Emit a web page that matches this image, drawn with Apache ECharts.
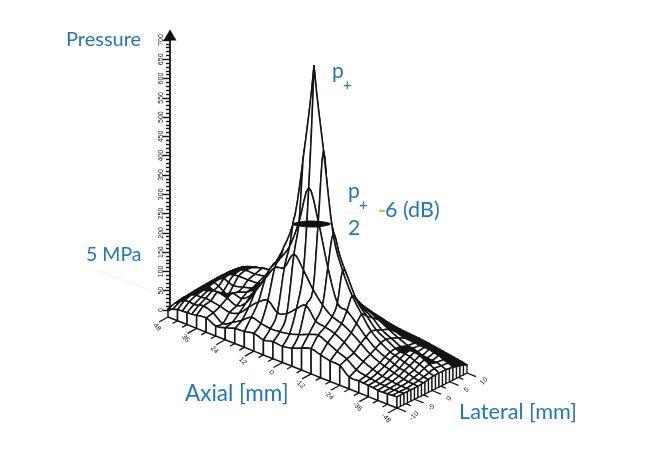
<!DOCTYPE html>
<html><head><meta charset="utf-8">
<style>html,body{margin:0;padding:0;background:#fff}#c{width:657px;height:463px}</style>
<script src="https://cdn.jsdelivr.net/npm/echarts@6/dist/echarts.min.js"></script>
</head><body><div id="c"></div>
<script>
const axialMm=[48,46,44,42,40,38,36,32,28,24,20,16,12,8,4,0,-4,-8,-12,-16,-20,-24,-28,-32,-34,-36,-38,-40,-42,-44,-46,-48];
const lateralMm=[-10,-8,-6,-4,-2.5,-1,0.5,2,4,6,7,8,8.7,9.4,10];
const p48=[0,6,10,11,13,14,15,16,17,16,16,15,15,14,13];
const p46=[4,14,20,22,24,25,26,27,28,28,27,26,25,24,22];
const p44=[8,22,28,30,33,34,36,37,38,38,37,35,33,31,29];
const p42=[9,24,32,36,38,42,44,46,47,47,45,42,39,36,33];
const p40=[10,22,32,40,34,38,50,54,56,55,52,47,43,39,35];
const p38=[11,25,34,44,30,30,46,58,62,60,56,51,46,42,37];
const p36=[13,28,32,46,32,26,42,60,66,64,60,54,49,44,39];
const p32=[16,20,28,40,46,42,48,60,66,72,66,58,52,46,40];
const p28=[5,2,22,30,42,52,56,62,70,76,70,62,55,48,42];
const p24=[10,15,30,48,62,72,74,72,74,82,77,70,62,54,47];
const p20=[18,30,55,88,100,104,96,88,82,86,84,76,68,60,52];
const p16=[20,48,78,130,150,158,140,115,98,92,88,80,74,68,60];
const p12=[25,42,92,168,185,215,188,140,112,94,88,82,76,70,64];
const p8=[18,38,70,178,226,298,240,168,118,96,90,84,78,72,66];
const p4=[23,40,78,222,300,480,310,215,128,96,92,86,80,75,70];
const p0=[21,44,100,190,397,705,420,250,122,92,90,84,78,72,65];
const pm4=[26,52,118,150,319,495,330,225,135,82,78,72,64,55,46];
const pm8=[36,62,88,120,210,290,240,155,118,78,66,58,52,46,40];
const pm12=[44,70,82,100,128,205,180,128,98,72,58,50,44,38,34];
const pm16=[38,60,75,92,118,150,128,105,86,62,50,44,38,32,28];
const pm20=[32,48,62,78,95,112,100,90,74,54,44,38,32,28,24];
const pm24=[30,38,45,60,70,78,74,68,60,45,38,32,28,24,22];
const pm28=[10,20,32,42,50,58,60,56,48,38,32,28,25,22,20];
const pm32=[10,14,22,30,38,44,46,44,38,36,32,27,24,20,17];
const pm34=[9,12,18,26,34,40,42,42,36,34,30,26,22,18,15];
const pm36=[8,10,14,22,28,36,42,44,32,34,30,24,20,16,13];
const pm38=[7,8,12,18,24,32,40,44,28,34,32,24,18,14,11];
const pm40=[5,8,10,15,22,28,34,40,26,30,30,24,16,12,9];
const pm42=[5,6,8,12,18,22,30,34,24,28,26,20,14,10,7];
const pm44=[6,7,8,10,14,18,24,28,24,22,20,16,11,8,5];
const pm46=[7,7,7,9,11,14,18,22,20,18,14,11,8,5,3];
const pm48=[8,8,8,8,10,12,15,15,15,12,9,7,5,3,0];
const surface=[p48,p46,p44,p42,p40,p38,p36,p32,p28,p24,p20,p16,p12,p8,p4,p0,pm4,pm8,pm12,pm16,pm20,pm24,pm28,pm32,pm34,pm36,pm38,pm40,pm42,pm44,pm46,pm48];
const halfLevelRing=[[-3.4,1.4],[-1.3,1.3],[2.4,-0.05],[4.6,-1.7],[5.4,-3.4],[3.3,-3.3],[-0.4,-1.95],[-2.6,-0.3]];
const halfLevelPressure=294;
const pressureTicks={min:0,max:700,step:50};
const axialTickLabels=['48','36','24','12','0','-12','-24','-36','-48'];
const axialMinor=[48,44,40,36,32,28,24,20,16,12,8,4,0,-4,-8,-12,-16,-20,-24,-28,-32,-36,-40,-44,-48];
const lateralTickLabels=['-10','-5','0','5','10'];
const lateralMinor=[-10,-7.5,-5,-2.5,0,2.5,5,7.5,10];
const wallLines=[-10,-9,-8,-7,-6,-5,-4,-3,-2,-1,0,1,2,3,4,5,6,7,8,9,10];

const blue='#2277bb';
const proj=(a,l,z)=>{const t=(48-a)/96,u=(l+10)/20;return [168+229*t+70*u,309+91*t-35*u-0.387*z];};
const floorZ=-20.7;
const node=(r,c)=>proj(axialMm[r],lateralMm[c],surface[r][c]);
let pr=0,pc=0;surface.forEach((row,r)=>row.forEach((v,c)=>{if(v>surface[pr][pc]){pr=r;pc=c;}}));
const clampNode=(r,c)=>node(Math.max(0,Math.min(axialMm.length-1,r)),Math.max(0,Math.min(lateralMm.length-1,c)));
function seg(r0,c0,r1,c1,n){
  const dr=r1-r0,dc=c1-c0;
  const P1=node(r0,c0),P2=node(r1,c1);
  let P0=clampNode(r0-dr,c0-dc),P3=clampNode(r1+dr,c1+dc);
  if(r0===pr&&c0===pc)P0=[2*P1[0]-P2[0],P1[1]-(P2[1]-P1[1])*1.6];
  if(r1===pr&&c1===pc)P3=[2*P2[0]-P1[0],P2[1]+(P2[1]-P1[1])*1.6];
  const out=[];
  for(let k=0;k<n;k++){const s=k/n,s2=s*s,s3=s2*s;
    const f=i=>0.5*(2*P1[i]+(P2[i]-P0[i])*s+(2*P0[i]-5*P1[i]+4*P2[i]-P3[i])*s2+(3*P1[i]-P0[i]-3*P2[i]+P3[i])*s3);
    out.push([f(0),f(1)]);}
  return out;
}
const cellArea=(r,c)=>{const q=[node(r,c),node(r+1,c),node(r+1,c+1),node(r,c+1)];let s=0;for(let i=0;i<4;i++){const a=q[i],b=q[(i+1)%4];s+=a[0]*b[1]-b[0]*a[1];}return Math.abs(s)/2;};
const blackBelow=27;
const cells=[];
for(let c=lateralMm.length-2;c>=0;c--)for(let r=0;r<axialMm.length-1;r++)cells.push([r,c]);
const frontCells=[];
for(let i=0;i<axialMinor.length-1;i++)frontCells.push([axialMm.indexOf(axialMinor[i]),axialMm.indexOf(axialMinor[i+1])]);
const zAt=(l)=>{const row=surface[surface.length-1];for(let c=0;c<lateralMm.length-1;c++){if(l<=lateralMm[c+1]){const f=(l-lateralMm[c])/(lateralMm[c+1]-lateralMm[c]);return row[c]+f*(row[c+1]-row[c]);}}return row[row.length-1];};
const stroke='#151515',meshW=1.55;

const chart=echarts.init(document.getElementById('c'),null,{renderer:'canvas'});
const txt=(x,y,s,size,extra)=>({type:'text',x,y,silent:true,style:Object.assign({text:s,fontFamily:'Lato',fontSize:size,fill:blue,textVerticalAlign:'middle'},extra||{})});
chart.setOption({
  animation:false,
  backgroundColor:'#fff',
  grid:[{left:0,top:0,width:657,height:463},{left:170,top:40,width:1,height:270}],
  xAxis:[{type:'value',min:0,max:657,show:false,gridIndex:0},{type:'value',min:0,max:1,show:false,gridIndex:1}],
  yAxis:[{type:'value',min:0,max:463,inverse:true,show:false,gridIndex:0},
    {type:'value',gridIndex:1,min:pressureTicks.min,max:pressureTicks.max,interval:pressureTicks.step,position:'left',z:5,
     axisLine:{show:true,lineStyle:{color:'#111',width:1.8},symbol:['none','triangle'],symbolSize:[13,11],symbolOffset:[0,5]},
     axisTick:{show:true,length:7,lineStyle:{color:'#111',width:1.4}},
     minorTick:{show:true,splitNumber:5,length:4,lineStyle:{color:'#111',width:1.4}},
     splitLine:{show:false},minorSplitLine:{show:false},
     axisLabel:{show:true,rotate:90,fontSize:7,margin:5,color:'#222',fontFamily:'"Liberation Sans"',hideOverlap:false}}],
  series:[
   {type:'custom',coordinateSystem:'cartesian2d',xAxisIndex:0,yAxisIndex:0,clip:false,silent:true,z:2,data:cells,
    renderItem(p,api){const r=api.value(0),c=api.value(1),n=4;
      const pts=[].concat(seg(r,c,r+1,c,n),seg(r+1,c,r+1,c+1,n),seg(r+1,c+1,r,c+1,n),seg(r,c+1,r,c,n)).map(q=>api.coord(q));
      return {type:'polygon',shape:{points:pts},style:{fill:cellArea(r,c)<blackBelow?'#151515':'#fff',stroke,lineWidth:meshW,lineJoin:'round'}};}},
   {type:'custom',coordinateSystem:'cartesian2d',xAxisIndex:0,yAxisIndex:0,clip:false,silent:true,z:3,data:frontCells,
    renderItem(p,api){const r0=api.value(0),r1=api.value(1),n=4;
      let top=[];for(let r=r0;r<r1;r++)top=top.concat(seg(r,0,r+1,0,n));top.push(node(r1,0));
      const pts=top.concat([proj(axialMm[r1],-10,floorZ),proj(axialMm[r0],-10,floorZ)]).map(q=>api.coord(q));
      return {type:'polygon',shape:{points:pts},style:{fill:'#fff',stroke,lineWidth:meshW,lineJoin:'round'}};}},
   {type:'custom',coordinateSystem:'cartesian2d',xAxisIndex:0,yAxisIndex:0,clip:false,silent:true,z:3,data:wallLines.slice(0,-1).map((l,i)=>[l,wallLines[i+1]]),
    renderItem(p,api){const l0=api.value(0),l1=api.value(1);
      const pts=[proj(-48,l0,zAt(l0)),proj(-48,l1,zAt(l1)),proj(-48,l1,floorZ),proj(-48,l0,floorZ)].map(q=>api.coord(q));
      return {type:'polygon',shape:{points:pts},style:{fill:'#fff',stroke,lineWidth:1.3}};}},
   {type:'custom',coordinateSystem:'cartesian2d',xAxisIndex:0,yAxisIndex:0,clip:false,silent:true,z:4,data:[[0,0]],
    renderItem(p,api){const pts=halfLevelRing.map(q=>api.coord(proj(q[0],q[1],halfLevelPressure)));
      return {type:'polygon',shape:{points:pts,smooth:0.4},style:{fill:'#111',stroke:'#111',lineWidth:1}};}},
   {type:'custom',coordinateSystem:'cartesian2d',xAxisIndex:0,yAxisIndex:0,clip:false,silent:true,z:4,data:axialMinor.map(a=>[a,0]),
    renderItem(p,api){const a=api.value(0),major=a%12===0;const b=proj(a,-10,floorZ);const L=major?1:0.55;
      const q=[b,[b[0]-9*L,b[1]+5*L]].map(v=>api.coord(v));
      const kids=[{type:'line',shape:{x1:q[0][0],y1:q[0][1],x2:q[1][0],y2:q[1][1]},style:{stroke:'#111',lineWidth:1.3}}];
      if(major){const t=api.coord([b[0]-11,b[1]+10]);
        kids.push({type:'text',x:t[0],y:t[1],rotation:-Math.PI/4,style:{text:axialTickLabels[(48-a)/12],fontSize:7,fontFamily:'"Liberation Sans"',fill:'#222',textAlign:'center',textVerticalAlign:'middle'}});}
      return {type:'group',children:kids};}},
   {type:'custom',coordinateSystem:'cartesian2d',xAxisIndex:0,yAxisIndex:0,clip:false,silent:true,z:4,data:lateralMinor.map(l=>[l,0]),
    renderItem(p,api){const l=api.value(0),major=l%5===0;const b=proj(-48,l,floorZ);const L=major?1:0.55;
      const q=[b,[b[0]+9*L,b[1]+3.6*L]].map(v=>api.coord(v));
      const kids=[{type:'line',shape:{x1:q[0][0],y1:q[0][1],x2:q[1][0],y2:q[1][1]},style:{stroke:'#111',lineWidth:1.3}}];
      if(major){const t=api.coord([b[0]+17,b[1]+8]);
        kids.push({type:'text',x:t[0],y:t[1],rotation:Math.PI/4,style:{text:lateralTickLabels[(l+10)/5],fontSize:7,fontFamily:'"Liberation Sans"',fill:'#222',textAlign:'center',textVerticalAlign:'middle'}});}
      return {type:'group',children:kids};}},
   {type:'line',xAxisIndex:1,yAxisIndex:1,data:[],silent:true}
  ],
  graphic:[
    txt(66,40,'Pressure',20),
    txt(86,255,'5 MPa',19.5),
    txt(185,394,'Axial [mm]',22.5),
    txt(459,412,'Lateral [mm]',21.7),
    txt(332,71,'p',21),
    txt(343,85,'+',15),
    txt(348,191,'p',21),
    txt(359,205,'+',15),
    txt(348,228,'2',21),
    txt(378,211,'-',22,{fill:'#b8cf52',fontWeight:'bold'}),
    txt(385,210,'6 (dB)',21.5),
    {type:'line',silent:true,shape:{x1:97,y1:270,x2:152,y2:291},style:{stroke:'#cfe6f2',lineWidth:1,lineDash:[1,1]}},
    {type:'line',silent:true,shape:{x1:343,y1:213,x2:366,y2:213},style:{stroke:'#eef3e6',lineWidth:1}}
  ]
});
</script></body></html>
